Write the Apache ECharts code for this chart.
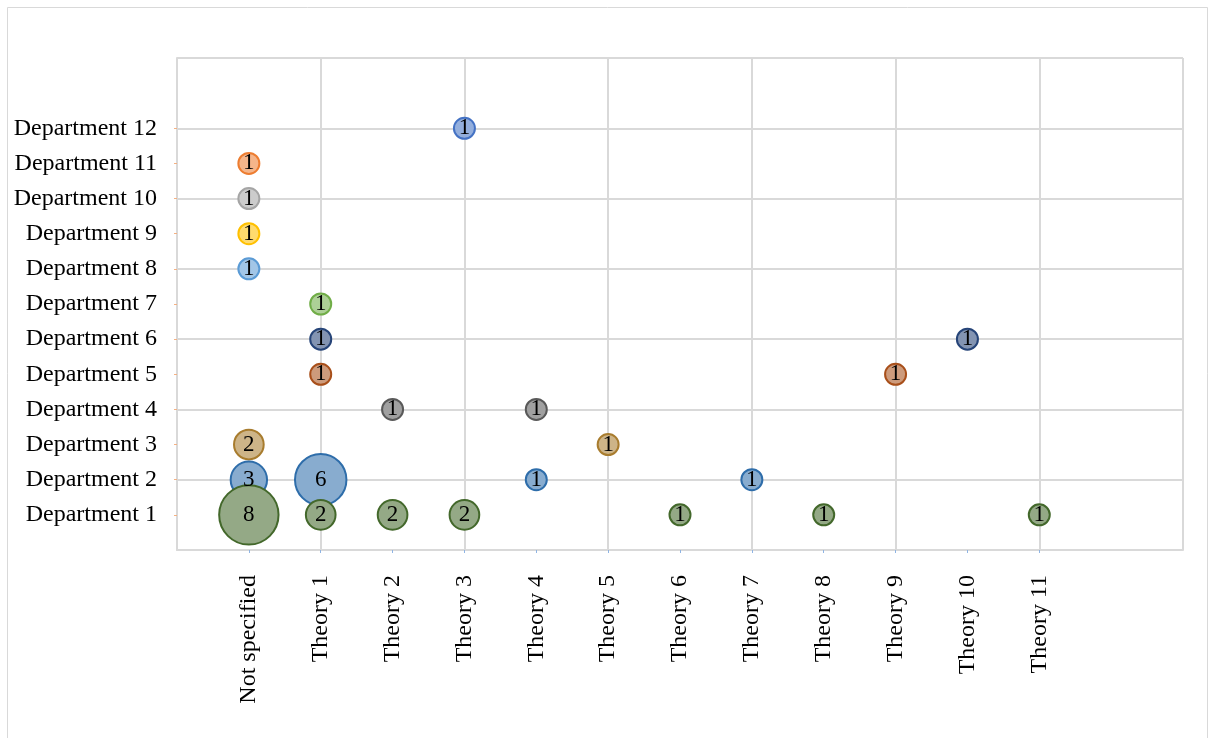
<!DOCTYPE html>
<html>
<head>
<meta charset="utf-8">
<script src="https://cdn.jsdelivr.net/npm/echarts@6/dist/echarts.min.js"></script>
<style>
html,body{margin:0;padding:0;background:#fff;}
#chart{width:1209px;height:738px;}
</style>
</head>
<body>
<div id="chart"></div>
<script>
// X categories (padded so that positions 0..14 exist)
const xCategories = ['', 'Not specified', 'Theory 1', 'Theory 2', 'Theory 3', 'Theory 4', 'Theory 5', 'Theory 6', 'Theory 7', 'Theory 8', 'Theory 9', 'Theory 10', 'Theory 11', '', ''];
const yCategories = ['', 'Department 1', 'Department 2', 'Department 3', 'Department 4', 'Department 5', 'Department 6', 'Department 7', 'Department 8', 'Department 9', 'Department 10', 'Department 11', 'Department 12', '', ''];

// Each department: [theory label, count]
const dept1 = [['Not specified', 8], ['Theory 1', 2], ['Theory 2', 2], ['Theory 3', 2], ['Theory 6', 1], ['Theory 8', 1], ['Theory 11', 1]];
const dept2 = [['Not specified', 3], ['Theory 1', 6], ['Theory 4', 1], ['Theory 7', 1]];
const dept3 = [['Not specified', 2], ['Theory 5', 1]];
const dept4 = [['Theory 2', 1], ['Theory 4', 1]];
const dept5 = [['Theory 1', 1], ['Theory 9', 1]];
const dept6 = [['Theory 1', 1], ['Theory 10', 1]];
const dept7 = [['Theory 1', 1]];
const dept8 = [['Not specified', 1]];
const dept9 = [['Not specified', 1]];
const dept10 = [['Not specified', 1]];
const dept11 = [['Not specified', 1]];
const dept12 = [['Theory 3', 1]];

const departments = [
  ['Department 1', dept1], ['Department 2', dept2], ['Department 3', dept3], ['Department 4', dept4],
  ['Department 5', dept5], ['Department 6', dept6], ['Department 7', dept7], ['Department 8', dept8],
  ['Department 9', dept9], ['Department 10', dept10], ['Department 11', dept11], ['Department 12', dept12]
];

const deptColors = {
  'Department 1': '#43682B', 'Department 2': '#2E6DAA', 'Department 3': '#A87C2E', 'Department 4': '#595959',
  'Department 5': '#A84F1A', 'Department 6': '#264478', 'Department 7': '#70AD47', 'Department 8': '#5B9BD5',
  'Department 9': '#FFC000', 'Department 10': '#A5A5A5', 'Department 11': '#ED7D31', 'Department 12': '#4472C4'
};

const FONT = '"Liberation Serif", "Times New Roman", serif';
const gridColor = '#d9d9d9';

function lighten(c, a) {
  const r = parseInt(c.slice(1,3),16), g = parseInt(c.slice(3,5),16), b = parseInt(c.slice(5,7),16);
  const m = v => Math.round(v * a + 255 * (1 - a));
  return `rgb(${m(r)},${m(g)},${m(b)})`;
}

const series = departments.slice().reverse().map(([name, rows]) => ({
  name: name,
  type: 'scatter',
  data: rows.map(([t, v]) => [xCategories.indexOf(t), yCategories.indexOf(name), v]),
  symbolSize: d => 21 * Math.sqrt(d[2]),
  itemStyle: { color: lighten(deptColors[name], 0.57), opacity: 1, borderColor: deptColors[name], borderWidth: 2 },
  label: { show: true, position: 'inside', formatter: p => p.data[2], color: '#000', fontFamily: FONT, fontSize: 23, padding: [3, 0, 0, 0] },
  emphasis: { disabled: true }
}));

const chart = echarts.init(document.getElementById('chart'));
chart.setOption({
  animation: false,
  backgroundColor: '#fff',
  graphic: [{ type: 'rect', shape: { x: 7.5, y: 7.5, width: 1200, height: 760 }, style: { fill: 'none', stroke: '#d9d9d9', lineWidth: 1 }, silent: true }],
  grid: { left: 177, right: 26, top: 58, bottom: 188 },
  xAxis: {
    type: 'category', data: xCategories, boundaryGap: false,
    axisLine: { lineStyle: { color: gridColor, width: 2 } },
    axisTick: { show: true, length: 3, interval: (i, v) => v !== '', lineStyle: { color: '#8fb4e3' } },
    axisLabel: { interval: 0, rotate: 90, margin: 25, color: '#000', fontFamily: FONT, fontSize: 24 },
    splitLine: { show: true, interval: i => i % 2 === 0, lineStyle: { color: gridColor, width: 2 } }
  },
  yAxis: {
    type: 'category', data: yCategories, boundaryGap: false,
    axisLine: { lineStyle: { color: gridColor, width: 2 } },
    axisTick: { show: true, length: 3, interval: (i, v) => v !== '', lineStyle: { color: '#f4b183' } },
    axisLabel: { interval: 0, margin: 20, color: '#000', fontFamily: FONT, fontSize: 24, padding: [4, 0, 0, 0] },
    splitLine: { show: true, interval: i => i % 2 === 0, lineStyle: { color: gridColor, width: 2 } }
  },
  series: series
});
</script>
</body>
</html>
